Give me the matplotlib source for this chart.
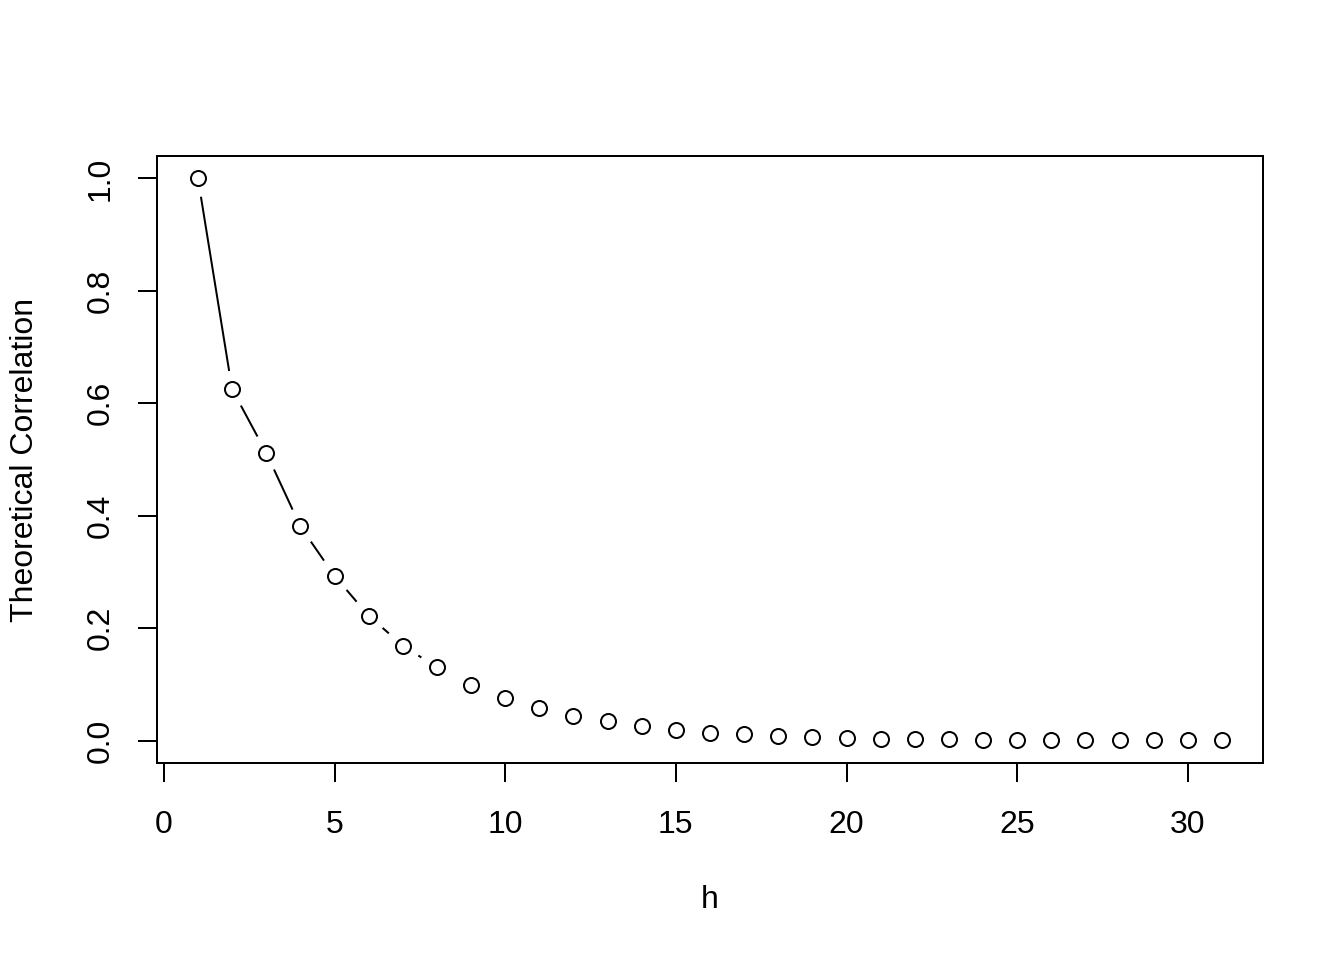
import matplotlib
matplotlib.use("Agg")
import matplotlib.pyplot as plt
import numpy as np

plt.rcParams['font.family'] = ['Liberation Sans', 'DejaVu Sans']

# lag and theoretical correlation
h = list(range(1, 32))
rho = [1.000, 0.625, 0.512, 0.381, 0.293, 0.222, 0.169, 0.130, 0.098, 0.075,
       0.057, 0.043, 0.034, 0.025, 0.019, 0.014, 0.011, 0.008, 0.006, 0.0045,
       0.0035, 0.0027, 0.002, 0.0015, 0.0012, 0.0009, 0.0007, 0.0005, 0.0004,
       0.0003, 0.0002]

W, H, DPI = 1344, 960, 144
fig = plt.figure(figsize=(W / DPI, H / DPI), dpi=DPI)
ax = fig.add_axes([157 / W, 1 - 763 / H, (1263 - 157) / W, (763 - 156) / H])

ax.set_xlim(-0.2, 32.2)
ax.set_ylim(-0.04, 1.04)

# points
ax.plot(h, rho, linestyle='none', marker='o', markersize=7.5,
        markerfacecolor='white', markeredgecolor='black', markeredgewidth=1.0)

# lines with a gap around each point, like R's type="b"
gap = 19.5  # pixels
pts = ax.transData.transform(np.column_stack([h, rho]))
inv = ax.transData.inverted()
for i in range(len(pts) - 1):
    p0, p1 = pts[i], pts[i + 1]
    d = p1 - p0
    L = np.hypot(d[0], d[1])
    if L <= 2 * gap:
        continue
    u = d / L
    a = inv.transform(p0 + u * gap)
    b = inv.transform(p1 - u * gap)
    ax.plot([a[0], b[0]], [a[1], b[1]], color='black', linewidth=1.0)

ax.set_xticks([0, 5, 10, 15, 20, 25, 30])
ax.set_yticks([0.0, 0.2, 0.4, 0.6, 0.8, 1.0])
ax.set_yticklabels(['0.0', '0.2', '0.4', '0.6', '0.8', '1.0'], rotation=90, va='center')
ax.tick_params(axis='both', direction='out', length=9.5, width=1.0, labelsize=16, color='black')
ax.tick_params(axis='x', pad=14)
ax.tick_params(axis='y', pad=11)
for s in ax.spines.values():
    s.set_linewidth(1.0)

fig.text(710 / W, 1 - 900 / H, 'h', ha='center', va='center', fontsize=16)
fig.text(25 / W, 1 - 460 / H, 'Theoretical Correlation', ha='center', va='center',
         rotation=90, fontsize=16)

fig.savefig('out.png', dpi=DPI)
